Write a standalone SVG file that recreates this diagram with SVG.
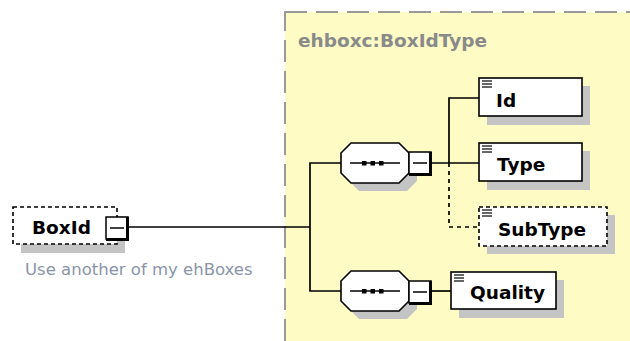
<svg xmlns="http://www.w3.org/2000/svg" width="630" height="341" viewBox="0 0 630 341">
<defs>
<style>
.shadow{fill:#c4c4c4;stroke:none}
.box{fill:#fff;stroke:#000;stroke-width:1.6}
.opt{fill:#fff;stroke:#000;stroke-width:1.6;stroke-dasharray:4 3}
.lbl{font-family:"DejaVu Sans",sans-serif;font-weight:bold;font-size:18.5px;fill:#000}
.line{fill:none;stroke:#000;stroke-width:1.7}
.dline{fill:none;stroke:#000;stroke-width:1.7;stroke-dasharray:4 4}
.ico{stroke:#000;stroke-width:1.2}
</style>
<g id="minus">
<rect x="0" y="0" width="22" height="22" fill="#fff" stroke="#000" stroke-width="1.5"/>
<path d="M21.5 0 V22.5 H0" fill="none" stroke="#000" stroke-width="3"/>
<line x1="4" y1="11" x2="18" y2="11" stroke="#000" stroke-width="1.5"/>
</g>
<g id="seq">
<polygon points="10,8 58,8 68,18 68,38 58,48 10,48 0,38 0,18" transform="translate(8,0)" class="shadow"/>
<polygon points="10,0 58,0 68,10 68,30 58,40 10,40 0,30 0,10" fill="#fff" stroke="#000" stroke-width="1.6"/>
<line x1="9" y1="20" x2="59" y2="20" stroke="#000" stroke-width="1.6"/>
<rect x="21" y="18" width="4.5" height="4.5" fill="#000"/>
<rect x="29.5" y="18" width="4.5" height="4.5" fill="#000"/>
<rect x="38" y="18" width="4.5" height="4.5" fill="#000"/>
</g>
<g id="elic">
<line x1="0" y1="0" x2="10" y2="0" class="ico"/>
<line x1="0" y1="3" x2="10" y2="3" class="ico"/>
<line x1="0" y1="6" x2="10" y2="6" class="ico"/>
</g>
</defs>

<rect width="630" height="341" fill="#fff"/>

<g id="complexType">
<rect x="285" y="12" width="400" height="400" fill="#fffbc4" stroke="#999" stroke-width="2" stroke-dasharray="22 9"/>
<text x="298" y="47" font-family="DejaVu Sans, sans-serif" font-weight="bold" font-size="18.5px" fill="#8a8a8a">ehboxc:BoxIdType</text>
</g>

<g id="connectors">
<line x1="128" y1="227" x2="310" y2="227" class="line" stroke-width="2"/>
<path d="M341 163 H310 V291 H341" class="line"/>
<line x1="432" y1="163" x2="479" y2="163" class="line"/>
<path d="M479 98 H449 V163" class="line"/>
<path d="M449 163 V227 H479" class="dline"/>
<line x1="432" y1="291" x2="451" y2="291" class="line"/>
</g>

<g id="BoxId">
<rect x="21" y="216" width="104" height="37" class="shadow"/>
<rect x="13" y="207" width="104" height="37" class="opt"/>
<text x="32" y="234" class="lbl" font-size="18px">BoxId</text>
<use href="#minus" x="106" y="217"/>
<text x="25" y="275" font-family="DejaVu Sans, sans-serif" font-size="16.5px" fill="#8a94a8">Use another of my ehBoxes</text>
</g>

<g id="seq1">
<use href="#seq" x="341" y="143"/>
<use href="#minus" x="409" y="152"/>
</g>

<g id="seq2">
<use href="#seq" x="341" y="271"/>
<use href="#minus" x="409" y="281"/>
</g>

<g id="Id">
<rect x="487" y="86" width="103" height="39" class="shadow"/>
<rect x="479" y="78" width="103" height="38" class="box"/>
<use href="#elic" x="482" y="81"/>
<text x="496" y="107" class="lbl">Id</text>
</g>

<g id="Type">
<rect x="487" y="151" width="103" height="39" class="shadow"/>
<rect x="479" y="143" width="103" height="38" class="box"/>
<use href="#elic" x="482" y="146"/>
<text x="497" y="171" class="lbl">Type</text>
</g>

<g id="SubType">
<rect x="487" y="215" width="128" height="39" class="shadow"/>
<rect x="479" y="207" width="128" height="39" class="opt"/>
<use href="#elic" x="482" y="210"/>
<text x="498" y="236" class="lbl">SubType</text>
</g>

<g id="Quality">
<rect x="459" y="280" width="105" height="38" class="shadow"/>
<rect x="451" y="272" width="105" height="37" class="box"/>
<use href="#elic" x="454" y="275"/>
<text x="470" y="299" class="lbl">Quality</text>
</g>
</svg>
